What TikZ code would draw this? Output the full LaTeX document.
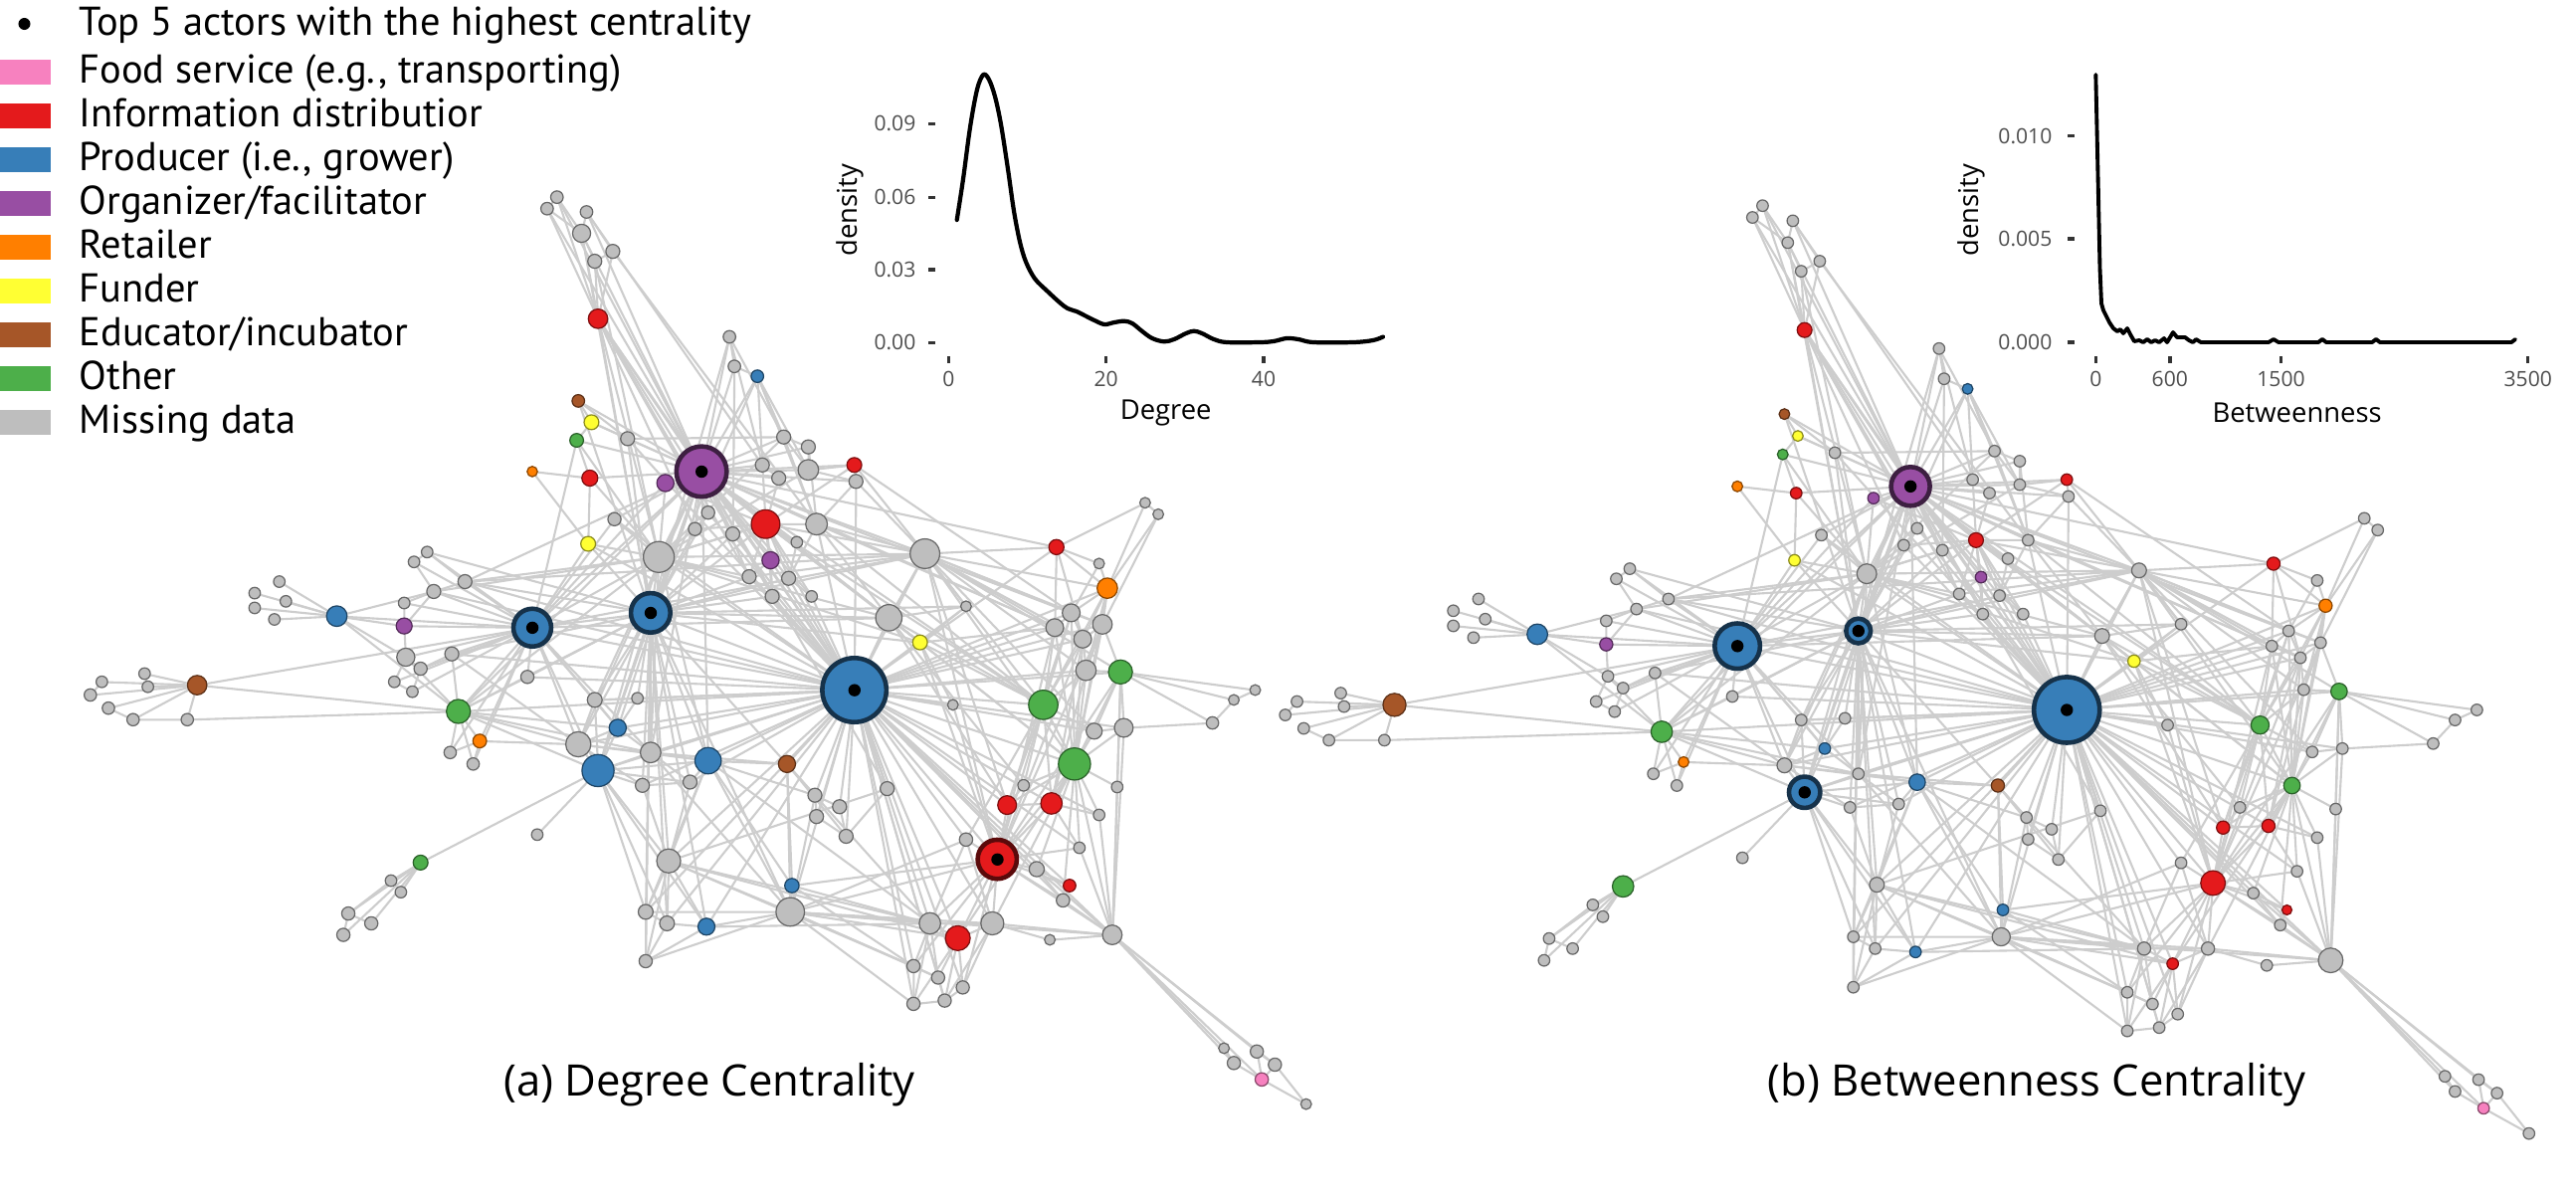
\documentclass[tikz,border=0pt]{standalone}
\usepackage{fontspec}
\setmainfont{Open Sans}
\newfontfamily\legfont{PT Sans}
\pgfdeclarelayer{background}
\pgfsetlayers{background,main}
\definecolor{cr}{HTML}{E41A1C}
\definecolor{cb}{HTML}{377EB8}
\definecolor{cgr}{HTML}{4DAF4A}
\definecolor{cp}{HTML}{984EA3}
\definecolor{co}{HTML}{FF7F00}
\definecolor{cy}{HTML}{FFFF33}
\definecolor{cn}{HTML}{A65628}
\definecolor{cpk}{HTML}{F781BF}
\definecolor{cg}{HTML}{BEBEBE}
\definecolor{edgecol}{HTML}{CDCDCD}
\definecolor{tickcol}{HTML}{4D4D4D}
\tikzset{
  vtx/.style={circle,inner sep=0pt,outer sep=0pt,line width=0.35pt},
  topdot/.style={circle,fill=black,inner sep=0pt,minimum size=1.24mm},
  edge/.style={draw=edgecol,line width=0.6pt},
  legsq/.style={rectangle,inner sep=0pt,minimum width=0.51cm,minimum height=0.25cm},
  legtxt/.style={anchor=base west,inner sep=0pt,font=\legfont\fontsize{11.5pt}{12pt}\selectfont},
  ticklab/.style={inner sep=0pt,text=tickcol,font=\fontsize{6pt}{7pt}\selectfont},
  axlab/.style={inner sep=0pt,font=\fontsize{7.8pt}{9pt}\selectfont},
  caption/.style={inner sep=0pt,font=\fontsize{12.4pt}{14pt}\selectfont},
  tickmark/.style={draw=black!80,line width=0.95pt},
  curve/.style={draw=black,line width=1.2pt,line join=round,line cap=round}
}
\def\nodelist{%
t1/339/120/cg/7.6/7/0/0,t2/333/127/cg/7.6/7/0/0,t3/357/129/cg/7.6/7/0/0,t4/354/142/cg/11/7/0/0,%
t5/373/153/cg/8.5/7/0/0,t6/362/159/cg/8.5/7/0/0,r1/364/194/cr/11.8/9/0/0,n1/444/205/cg/7.6/7/0/0,%
n2/447/223/cg/7.6/7/0/0,b1/461/229/cb/7.6/6.5/0/0,br1/352/244/cn/7.6/6.5/0/0,y1/360/257/cy/9/6.5/0/0,%
g1/351/268/cgr/8.3/6.5/0/0,n3/382/267/cg/8.5/7/0/0,o1/324/287/co/6.3/6.5/0/0,r2/359/291/cr/9.7/7/0/0,%
p2/405/294/cp/10.4/7/0/0,P/427/287/cp/30.6/23.6/1/1,n4/477/266/cg/8.5/7/0/0,n5/492/272/cg/8.5/7/0/0,%
n6/464/283/cg/8.5/7/0/0,n7/474/291/cg/8.5/7/0/0,n8/492/286/cg/12.5/7/0/0,r3/520/283/cr/9/7/0/0,%
n9/521/293/cg/8.5/7/0/0,n10/431/312/cg/8/7/0/0,n11/374/316/cg/8/7/0/0,n12/423/322/cg/8/7/0/0,%
n13/446/325/cg/8.5/7/0/0,r4/466/319/cr/17.4/9/0/0,n14/497/319/cg/13.2/7/0/0,n15/485/330/cg/7/7/0/0,%
p3/469/341/cp/10.4/7/0/0,y2/358/331/cy/9/7/0/0,G1/401/339/cg/18.8/12/0/0,G2/563/337/cg/18/9/0/0,%
n16/456/351/cg/8.5/7/0/0,n17/480/352/cg/8.5/7/0/0,n18/470/363/cg/8.5/7/0/0,n19/494/363/cg/7/7/0/0,%
G3/541/376/cg/16/9/0/0,y3/560/391/cy/9/7.5/0/0,B2/396/373/cb/24/15/1/1,B1/324/382/cb/23/27.6/1/1,%
b2/205/375/cb/12.5/12.5/0/0,p4/246/381/cp/9.7/8/0/0,n20/260/336/cg/7/7/0/0,n21/252/342/cg/7/7/0/0,%
n22/283/354/cg/8.5/7/0/0,n23/264/360/cg/8.5/7/0/0,n24/246/367/cg/7/7/0/0,n25/170/354/cg/7/7/0/0,%
n26/155/361/cg/7/7/0/0,n27/174/366/cg/7/7/0/0,n28/155/370/cg/7/7/0/0,n29/167/377/cg/7/7/0/0,%
n30/247/400/cg/11/7/0/0,n31/275/398/cg/8.5/7/0/0,n32/256/407/cg/8/7/0/0,n33/240/415/cg/7/7/0/0,%
n34/251/421/cg/7/7/0/0,n35/321/412/cg/8/7/0/0,br2/120/417/cn/11.8/14/0/0,n36/88/410/cg/7/7/0/0,%
n37/62/415/cg/7/7/0/0,n38/90/418/cg/7/7/0/0,n39/55/423/cg/7.5/7/0/0,n40/66/431/cg/7.5/7/0/0,%
n41/81/438/cg/7.5/7/0/0,n42/114/438/cg/7.5/7/0/0,g2/279/433/cgr/14.6/13/0/0,o2/292/451/co/8.3/6.5/0/0,%
n43/274/458/cg/7.5/7/0/0,n44/288/465/cg/7.5/7/0/0,n45/362/426/cg/9/7/0/0,n46/388/425/cg/7/7/0/0,%
b3/376/443/cb/10.4/7/0/0,G4/352/453/cg/15.3/9/0/0,B3/364/469/cb/19.5/19/0/1,n47/396/458/cg/12.5/7/0/0,%
b4/431/463/cb/16/10/0/0,n48/391/478/cg/8.5/7/0/0,n49/420/476/cg/8.5/7/0/0,br3/479/465/cn/10.4/8/0/0,%
n50/327/508/cg/7/7/0/0,G5/407/524/cg/14.6/9/0/0,g3/256/525/cgr/9/13/0/0,n51/238/536/cg/7/7/0/0,%
n52/244/543/cg/7/7/0/0,n53/212/556/cg/8/7/0/0,n54/226/562/cg/8/7/0/0,n55/209/569/cg/8/7/0/0,%
n56/393/555/cg/9/7/0/0,n57/406/562/cg/9/7/0/0,b5/430/564/cb/10.3/7/0/0,n58/393/585/cg/8/7/0/0,%
n59/496/484/cg/8.5/7/0/0,n60/511/491/cg/8.5/7/0/0,n61/497/497/cg/8.5/7/0/0,n62/515/509/cg/8.5/7/0/0,%
n63/540/480/cg/8.5/7/0/0,H/520/420/cb/39/40/1/1,n64/588/369/cg/6.5/7/0/0,n65/580/429/cg/6.5/7/0/0,%
r5/643/333/cr/9.2/8/0/0,n66/697/306/cg/6.5/7/0/0,n67/705/313/cg/6.5/7/0/0,n68/669/343/cg/6.5/7/0/0,%
o3/674/358/co/12.4/8/0/0,n69/652/373/cg/10.8/7/0/0,n70/642/382/cg/10.8/7/0/0,n71/671/380/cg/11.9/7/0/0,%
n72/659/389/cg/10.8/7/0/0,n73/661/408/cg/12.4/7/0/0,g4/682/409/cgr/14.6/10/0/0,g5/635/429/cgr/17.8/11/0/0,%
n74/764/420/cg/6.5/7/0/0,n75/751/426/cg/6.5/7/0/0,n76/738/440/cg/7.5/7/0/0,n77/666/445/cg/9.7/7/0/0,%
n78/684/443/cg/11.4/7/0/0,g6/654/465/cgr/19.5/10/0/0,n79/680/479/cg/7/7/0/0,n80/623/478/cg/7/7/0/0,%
r6/613/490/cr/11.4/8/0/0,r7/640/489/cr/13/8/0/0,n81/669/496/cg/7/7/0/0,n82/657/516/cg/7/7/0/0,%
R1/607/523/cr/23.8/15/1/0,n83/631/529/cg/9.2/7/0/0,r8/651/539/cr/7.6/6/0/0,n84/647/548/cg/8.1/7/0/0,%
n85/588/511/cg/8.1/7/0/0,b6/482/539/cb/8.7/7/0/0,G6/481/555/cg/17.3/11/0/0,n86/566/562/cg/13/8/0/0,%
r9/583/571/cr/15.1/7/0/0,n87/604/562/cg/14/8/0/0,G7/677/569/cg/11.9/15/0/0,n88/639/572/cg/6.5/7/0/0,%
n89/556/588/cg/8/7/0/0,n90/571/595/cg/8/7/0/0,n91/586/601/cg/8/7/0/0,n92/556/611/cg/8/7/0/0,%
n93/575/609/cg/8/7/0/0,n94/745/638/cg/6.5/7/0/0,n95/751/647/cg/8/7/0/0,n96/765/640/cg/8/7/0/0,%
n97/776/648/cg/8/7/0/0,pk/768/657/cpk/8.1/7/0/0,n98/795/672/cg/6.5/7/0/0}
\def\edgelist{%
t1/t2,t1/t4,t2/t4,t3/t4,t3/t5,t4/t6,t5/t6,t4/r1,t6/r1,t2/r1,t5/r1,t1/r1,t2/P,t5/n14,t6/G1,t3/n6,%
t1/P,t3/P,t4/P,t4/B2,r1/n13,r1/n16,%
r1/P,r1/B2,r1/G1,r1/n10,r1/H,r1/n12,%
n1/n2,n1/P,n2/b1,n2/P,b1/n8,b1/n14,b1/n6,n1/B2,n1/n4,n1/n6,n2/n13,b1/n4,b1/B2,%
br1/y1,br1/P,y1/P,g1/r2,g1/P,y1/g1,o1/r2,o1/y2,r2/P,r2/y2,y2/B2,n3/P,n3/B2,n3/n4,%
br1/n3,y1/n3,br1/B2,g1/B1,y2/B1,r2/G1,g1/G1,%
P/p2,P/n4,P/n5,P/n6,P/n7,P/n8,P/r3,P/n9,P/n10,P/n11,P/n12,P/n13,P/r4,P/n14,P/n15,P/p3,P/G1,P/n16,%
P/n17,P/n18,P/B2,P/B1,P/H,P/G2,P/G3,P/y3,P/n19,P/n22,P/n47,P/b4,%
P/b1,P/g2,P/b3,P/n45,P/G4,P/B3,P/r5,P/n69,P/g5,P/n63,P/n70,%
p2/B1,p2/G1,p2/r4,%
n4/n5,n4/n8,n5/n8,n6/n7,n7/r4,n8/r3,n8/n9,r3/n9,r3/G2,n9/G2,r3/r4,n8/G1,n5/n14,n6/r4,n4/G1,n4/n14,%
n10/n12,n12/r4,n13/r4,r4/n14,r4/n16,r4/n17,r4/p3,r4/G1,r4/B2,r4/H,r4/G2,r4/n18,n14/G2,n14/n17,%
n14/G3,n15/n17,p3/n18,p3/n16,p3/H,n16/H,n17/H,n18/H,n19/H,n19/n17,%
r4/y3,r4/G3,r4/n15,r4/n19,r4/g5,n14/g5,n14/n70,r3/n69,n9/n14,%
G1/B2,G1/B1,G1/n22,G1/H,G1/n16,G1/G2,G1/n11,G1/y2,G1/n12,G1/n13,G1/G3,G1/y3,G1/B3,G1/n47,G1/b4,%
G2/G3,G2/H,G2/r5,G2/n69,G2/n70,G2/g5,G2/n72,G2/n16,G2/o3,G2/n71,G2/n73,G2/g4,G2/g6,G2/n77,G2/R1,G2/r6,%
G3/y3,G3/H,G3/n64,G3/B2,G3/g5,G3/g6,G3/r6,G3/n80,%
y3/n64,y3/H,y3/g5,y3/n65,y3/R1,y3/n70,y3/g6,%
B2/B1,B2/H,B2/n47,B2/b4,B2/B3,B2/G4,B2/n45,B2/n46,B2/n22,B2/n17,B2/n13,B2/n12,B2/n31,B2/g2,%
B2/G2,B2/n10,B2/n16,B2/n18,B2/G5,B2/n48,B2/n49,B2/n56,B2/n57,B2/b5,B2/n58,B2/G6,B2/n59,B2/y3,B2/n64,%
B1/b2,B1/p4,B1/n22,B1/n23,B1/n30,B1/n31,B1/n35,B1/g2,B1/G4,B1/B3,B1/H,B1/br2,B1/n24,B1/n45,B1/b3,B1/G2,%
B1/n20,B1/n21,B1/n32,B1/n33,B1/n34,B1/n43,B1/n44,B1/o2,B1/n47,B1/n11,B1/G3,%
b2/n25,b2/n26,b2/n27,b2/n28,b2/n29,b2/p4,b2/n30,b2/g2,b2/n23,%
p4/n24,p4/n30,p4/n23,%
n20/n21,n20/n22,n21/n23,n22/n23,n23/n24,n22/G2,n20/B2,n23/G1,n35/B2,g2/G1,g2/n35,%
n30/n32,n30/n33,n31/n32,n32/n34,n33/n34,n30/g2,n31/g2,n31/G4,%
br2/n36,br2/n37,br2/n38,br2/n39,br2/n40,br2/n41,br2/n42,n36/n38,n37/n39,n40/n41,n41/n42,n42/g2,br2/g2,%
g2/o2,g2/n43,g2/n44,g2/G4,g2/H,g2/b3,g2/B3,g2/n47,o2/n43,o2/n44,o2/G4,%
G4/B3,G4/n45,G4/b3,G4/n47,G4/H,G4/n48,G4/b4,%
B3/n47,B3/b4,B3/n48,B3/n49,B3/n56,B3/n57,B3/G5,B3/b3,B3/g3,B3/n50,B3/H,B3/b5,B3/n45,%
b3/n45,b3/n46,b3/n47,b3/H,n45/n46,n46/H,%
n47/b4,n47/n49,n47/H,n47/br3,n47/G6,%
b4/br3,b4/H,b4/n49,b4/b6,b4/G6,b4/G5,b4/n56,b4/n59,%
br3/H,br3/b6,br3/n59,br3/n62,br3/G6,%
n48/n49,n48/G5,n49/G5,%
G5/n56,G5/n57,G5/b5,G5/n58,G5/G6,G5/n63,G5/n86,G5/r9,G5/n89,%
n56/n57,n56/n58,n57/b5,n57/n58,b5/G6,b5/n58,n58/G6,b5/n86,n56/G6,%
G6/b6,G6/n86,G6/r9,G6/H,G6/n89,G6/n59,G6/n90,G6/n92,G6/n85,b6/n86,b6/n89,%
n59/n60,n59/n61,n60/n62,n61/n62,n59/H,n62/n63,n63/H,n60/H,%
g3/n51,g3/n52,g3/n53,g3/n54,g3/n55,n53/n54,n53/n55,n51/n53,%
H/n64,H/n65,H/g5,H/g6,H/n70,H/n72,H/n73,H/r6,H/r7,H/R1,H/n85,H/n83,H/G7,H/n86,H/r9,H/n87,H/o3,%
H/r5,H/g4,H/n77,H/n84,H/n61,H/n62,H/n90,H/n35,H/n22,H/n45,%
H/n10,H/n12,H/n13,H/n11,H/y2,H/n3,H/n23,H/n31,H/n48,H/n49,H/n56,H/b5,H/n57,H/G5,H/n89,H/n92,%
H/n91,H/n93,H/r8,H/n82,H/n81,H/n78,H/n71,H/n69,H/n14,H/n9,%
r5/n68,r5/o3,r5/n66,r5/n70,r5/n72,%
n66/n67,n66/o3,n67/o3,n67/n71,%
n68/o3,o3/n69,o3/n71,o3/n72,o3/n73,o3/g6,o3/g5,n68/n69,%
n69/n70,n69/n71,n69/n72,n70/n72,n71/n72,n72/n73,n71/g4,n73/g4,n73/g5,n70/g5,n69/g5,n71/n73,%
n69/g6,n70/g6,n71/g6,n72/g6,n72/r7,n73/r7,n69/r6,n70/R1,n71/R1,n72/R1,%
g4/n74,g4/n75,g4/n76,g4/n78,g4/n77,n74/n75,n75/n76,n78/n76,g4/g6,g4/n79,g4/G7,n78/G7,n79/G7,%
g5/n77,g5/g6,g5/r6,g5/r7,g5/R1,g5/n72,g5/n80,g5/n85,%
n77/g6,n78/g6,n77/n78,%
g6/n79,g6/n80,g6/r6,g6/r7,g6/R1,g6/n81,g6/n82,g6/n84,g6/G7,g6/n83,g6/n73,g6/r9,g6/n87,%
r6/R1,r7/R1,r6/r7,r7/n81,r7/n82,r6/n80,%
R1/n85,R1/n83,R1/r8,R1/n84,R1/n86,R1/r9,R1/n87,R1/n89,R1/n91,R1/n82,R1/g4,%
n83/r8,n83/n84,r8/n84,n84/G7,n82/G7,n81/G7,%
n85/n86,n85/n87,%
n86/r9,n86/n87,n86/n89,n86/n90,n86/n92,r9/n87,r9/n90,r9/n91,r9/n93,r9/n92,n87/n91,n87/n93,%
n87/G7,n87/n88,n89/n90,n89/n92,n90/n93,n91/n93,n92/n93,%
G7/n94,G7/n95,G7/n96,G7/n97,G7/pk,n94/n95,n95/pk,n96/n97,n96/pk,n97/pk,pk/n98,n97/n98,%
G7/n88,G7/R1,G7/n83,G6/G7,G6/R1,b6/R1,G6/n87,b4/n86,n59/n86,n64/G2,n65/R1}
\begin{document}
\begin{tikzpicture}[x=0.01cm,y=-0.01cm]
\path[use as bounding box] (0,0) rectangle (2589,1203);

% ---------- legend ----------
\node[topdot,minimum size=1.2mm] (legdot) at (24.5,24) {};
\node[legtxt] (lt0) at (79,35) {Top 5 actors with the highest centrality};
\node[legsq,fill=cpk] (sq1) at (25.5,72.5) {};
\node[legtxt] (lt1) at (79,83.3) {Food service (e.g., transporting)};
\node[legsq,fill=cr] (sq2) at (25.5,116.5) {};
\node[legtxt] (lt2) at (79,127.5) {Information distributior};
\node[legsq,fill=cb] (sq3) at (25.5,160.5) {};
\node[legtxt] (lt3) at (79,171.5) {Producer (i.e., grower)};
\node[legsq,fill=cp] (sq4) at (25.5,204.5) {};
\node[legtxt] (lt4) at (79,215.5) {Organizer/facilitator};
\node[legsq,fill=co] (sq5) at (25.5,248.5) {};
\node[legtxt] (lt5) at (79,259.5) {Retailer};
\node[legsq,fill=cy] (sq6) at (25.5,292.5) {};
\node[legtxt] (lt6) at (79,303.5) {Funder};
\node[legsq,fill=cn] (sq7) at (25.5,336.5) {};
\node[legtxt] (lt7) at (79,347.5) {Educator/incubator};
\node[legsq,fill=cgr] (sq8) at (25.5,380.5) {};
\node[legtxt] (lt8) at (79,391.5) {Other};
\node[legsq,fill=cg] (sq9) at (25.5,424.5) {};
\node[legtxt] (lt9) at (79,435.5) {Missing data};

% ---------- left network ----------
\begin{scope}[scale=1.6512]
\foreach \vn/\vx/\vy/\vc/\vsa/\vsb/\vta/\vtb in \nodelist {%
  \ifnum\vta=1
    \node[vtx,fill=\vc,draw=\vc!40!black,line width=1.3pt,minimum size=\vsa*0.16512mm] (L-\vn) at (\vx,\vy) {};
    \node[topdot] (Ld-\vn) at (L-\vn) {};
  \else
    \node[vtx,fill=\vc,draw=\vc!55!black,minimum size=\vsa*0.16512mm] (L-\vn) at (\vx,\vy) {};
  \fi
}
\begin{pgfonlayer}{background}
\foreach \va/\vb in \edgelist {\draw[edge] (L-\va) -- (L-\vb);}
\end{pgfonlayer}
\end{scope}

% ---------- right network ----------
\begin{scope}[shift={(1198.8,4.0)},scale=1.6892]
\foreach \vn/\vx/\vy/\vc/\vsa/\vsb/\vta/\vtb in \nodelist {%
  \ifnum\vtb=1
    \node[vtx,fill=\vc,draw=\vc!40!black,line width=1.3pt,minimum size=\vsb*0.16512mm] (R-\vn) at (\vx,\vy) {};
    \node[topdot] (Rd-\vn) at (R-\vn) {};
  \else
    \node[vtx,fill=\vc,draw=\vc!55!black,minimum size=\vsb*0.16512mm] (R-\vn) at (\vx,\vy) {};
  \fi
}
\begin{pgfonlayer}{background}
\foreach \va/\vb in \edgelist {\draw[edge] (R-\va) -- (R-\vb);}
\end{pgfonlayer}
\end{scope}

% ---------- degree density plot ----------
\foreach \yy/\lab in {124.3/0.09,198.3/0.06,271/0.03,344.3/0.00} {
  \draw[tickmark] (933,\yy) -- (940,\yy);
  \node[ticklab,anchor=east] (dl-\lab) at (921,\yy) {\lab};
}
\foreach \xx/\lab in {953.3/0,1111.7/20,1270/40} {
  \draw[tickmark] (\xx,358) -- (\xx,365);
  \node[ticklab] (dx-\lab) at (\xx,381) {\lab};
}
\node[axlab,rotate=90] (dylab) at (854,211) {density};
\node[axlab] (dxlab) at (1171.7,415) {Degree};
\draw[curve] plot[smooth,tension=0.55] coordinates {
 (961.7,221) (968,180) (975,128) (982,90) (988.3,75) (994,80) (1000,97) (1006,125) (1013,170)
 (1019,212) (1025,243) (1031,263) (1040,280) (1053,293) (1065,304) (1073,310) (1082,313)
 (1090,317) (1100,322) (1110,326) (1120,324) (1130,322.7) (1138,325) (1148,333) (1158,340)
 (1170,343.3) (1180,341) (1192,335) (1200,332.7) (1208,335) (1220,341) (1233,344) (1266,344)
 (1280,343) (1293,340) (1305,341) (1320,344) (1360,344) (1380,342) (1390,338.5)};

% ---------- betweenness density plot ----------
\foreach \yy/\lab in {136.7/0.010,240/0.005,344/0.000} {
  \draw[tickmark] (2078,\yy) -- (2085,\yy);
  \node[ticklab,anchor=east] (bl-\lab) at (2063,\yy) {\lab};
}
\foreach \xx/\lab in {2106.3/0,2180.8/600,2292.5/1500,2540.7/3500} {
  \draw[tickmark] (\xx,358) -- (\xx,365);
  \node[ticklab] (bx-\lab) at (\xx,381) {\lab};
}
\node[axlab,rotate=90] (bylab) at (1981,211) {density};
\node[axlab] (bxlab) at (2308.6,415) {Betweenness};
\draw[curve,line width=1.1pt] (2106.3,75) -- (2107.5,130) -- (2109,200) -- (2110.5,270) -- (2112,305)
 -- (2114,312) -- (2117,318) -- (2120,324) -- (2124,330) -- (2128,333) -- (2131,331) -- (2134,335)
 -- (2138,330) -- (2141,336) -- (2145,343) -- (2150,342) -- (2154,344) -- (2158,341) -- (2162,344)
 -- (2166,342) -- (2170,344) -- (2175,340) -- (2178,344) -- (2184,334) -- (2188,339) -- (2196,339)
 -- (2200,342) -- (2204,344) -- (2207,341) -- (2212,344) -- (2280,344) -- (2285,341) -- (2290,344)
 -- (2330,344) -- (2334,341) -- (2338,344) -- (2384,344) -- (2388,341) -- (2392,344) -- (2524,344)
 -- (2528,341);

% ---------- captions ----------
\node[caption] (capa) at (713,1090) {(a) Degree Centrality};
\node[caption] (capb) at (2047,1090) {(b) Betweenness Centrality};
\end{tikzpicture}
\end{document}
